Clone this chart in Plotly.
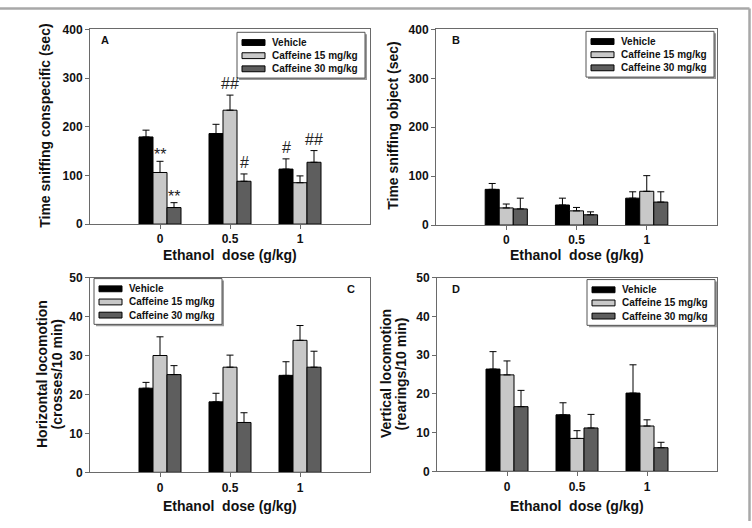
import plotly.graph_objects as go

# ---------------- data ----------------
categories = ["0", "0.5", "1"]
series_names = ["Vehicle", "Caffeine 15 mg/kg", "Caffeine 30 mg/kg"]

# Panel A: time sniffing conspecific (sec)
a_vehicle = [179, 186, 113]
a_caf15 = [106, 234, 85]
a_caf30 = [34, 88, 127]
a_vehicle_sem = [14, 19, 21]
a_caf15_sem = [23, 31, 14]
a_caf30_sem = [10, 15, 24]

# Panel B: time sniffing object (sec)
b_vehicle = [73, 41, 55]
b_caf15 = [35, 29, 69]
b_caf30 = [33, 21, 47]
b_vehicle_sem = [12, 14, 13]
b_caf15_sem = [8, 7, 32]
b_caf30_sem = [22, 6, 21]

# Panel C: horizontal locomotion (crosses/10 min)
c_vehicle = [21.6, 18.1, 24.9]
c_caf15 = [30.0, 27.0, 33.9]
c_caf30 = [25.1, 12.8, 27.0]
c_vehicle_sem = [1.5, 2.2, 3.5]
c_caf15_sem = [4.8, 3.1, 3.8]
c_caf30_sem = [2.3, 2.5, 4.1]

# Panel D: vertical locomotion (rearings/10 min)
d_vehicle = [26.4, 14.6, 20.2]
d_caf15 = [24.9, 8.5, 11.7]
d_caf30 = [16.7, 11.2, 6.1]
d_vehicle_sem = [4.5, 3.1, 7.3]
d_caf15_sem = [3.6, 2.0, 1.6]
d_caf30_sem = [4.2, 3.5, 1.4]

# significance marks in panel A: (series index, category index, text)
a_marks = [(1, 0, "**"), (2, 0, "**"), (1, 1, "##"), (2, 1, "#"), (0, 2, "#"), (2, 2, "##")]

# ---------------- styling ----------------
W, H = 752, 528
FONT = "Arial, 'Liberation Sans', Helvetica, sans-serif"
colors = ["#000000", "#c8c8c8", "#5e5e5e"]
AXC = "#6a6a6a"


def px(x):
    return x / W


def py(y):
    return 1 - y / H


panels = [
    dict(key="", vals=[a_vehicle, a_caf15, a_caf30], sems=[a_vehicle_sem, a_caf15_sem, a_caf30_sem],
         xd=(90, 370), yd=(23, 223), yr=400, dt=100,
         ytitle=["Time sniffing conspecific (sec)"], ytx=[45], yty=122,
         letter="A", lx=105, ly=34, leg=(237, 26), xtitle_y=255),
    dict(key="2", vals=[b_vehicle, b_caf15, b_caf30], sems=[b_vehicle_sem, b_caf15_sem, b_caf30_sem],
         xd=(436, 717), yd=(23, 224), yr=400, dt=100,
         ytitle=["Time sniffing object (sec)"], ytx=[393], yty=122,
         letter="B", lx=456, ly=34, leg=(586, 25), xtitle_y=255),
    dict(key="3", vals=[c_vehicle, c_caf15, c_caf30], sems=[c_vehicle_sem, c_caf15_sem, c_caf30_sem],
         xd=(90, 370), yd=(278, 478), yr=50, dt=10,
         ytitle=["Horizontal locomotion", "(crosses/10 min)"], ytx=[42, 57.5], yty=377,
         letter="C", lx=351, ly=290, leg=(94, 279), xtitle_y=513),
    dict(key="4", vals=[d_vehicle, d_caf15, d_caf30], sems=[d_vehicle_sem, d_caf15_sem, d_caf30_sem],
         xd=(437, 717), yd=(278, 477), yr=50, dt=10,
         ytitle=["Vertical locomotion", "(rearings/10 min)"], ytx=[386, 401.5], yty=377,
         letter="D", lx=456, ly=290, leg=(587, 280), xtitle_y=513),
]

fig = go.Figure()
xpos = list(range(len(categories)))
annotations = []
shapes = []

for p in panels:
    k = p["key"]
    for s in range(3):
        fig.add_trace(go.Bar(
            x=xpos, y=p["vals"][s], name=series_names[s],
            marker=dict(color=colors[s], line=dict(color="#000000", width=1)),
            error_y=dict(type="data", array=p["sems"][s], arrayminus=[0] * len(xpos),
                         symmetric=False, color="#000000", thickness=1, width=3.5),
            xaxis="x" + k, yaxis="y" + k, showlegend=False,
        ))
    fig.layout["xaxis" + k] = dict(
        domain=[px(p["xd"][0]), px(p["xd"][1])], anchor="y" + k,
        range=[-1, 3], tickvals=xpos, ticktext=categories,
        ticks="outside", ticklen=4, tickcolor=AXC,
        showline=True, mirror=True, linecolor=AXC, linewidth=1,
        showgrid=False, zeroline=False,
        tickfont=dict(family=FONT, size=12, color="#111", weight="bold"),
    )
    fig.layout["yaxis" + k] = dict(
        domain=[py(p["yd"][1]), py(p["yd"][0])], anchor="x" + k,
        range=[0, p["yr"]], dtick=p["dt"], tick0=0,
        ticks="outside", ticklen=4, tickcolor=AXC,
        showline=True, mirror=True, linecolor=AXC, linewidth=1,
        showgrid=False, zeroline=False,
        tickfont=dict(family=FONT, size=12, color="#111", weight="bold"),
    )
    # axis titles
    for line, tx in zip(p["ytitle"], p["ytx"]):
        annotations.append(dict(
            text=line, x=px(tx), y=py(p["yty"]), xref="paper", yref="paper",
            textangle=-90, showarrow=False, xanchor="center", yanchor="middle",
            font=dict(family=FONT, size=14, color="#111", weight="bold"),
        ))
    annotations.append(dict(
        text="Ethanol&nbsp; dose (g/kg)", x=px((p["xd"][0] + p["xd"][1]) / 2), y=py(p["xtitle_y"]),
        xref="paper", yref="paper", showarrow=False, xanchor="center", yanchor="middle",
        font=dict(family=FONT, size=14, color="#111", weight="bold"),
    ))
    # panel letter
    annotations.append(dict(
        text=p["letter"], x=px(p["lx"]), y=py(p["ly"]), xref="paper", yref="paper",
        showarrow=False, xanchor="center", yanchor="middle",
        font=dict(family=FONT, size=11, color="#111", weight="bold"),
    ))
    # custom legend box
    lx0, ly0 = p["leg"]
    bw, bh = 128, 47
    shapes.append(dict(type="rect", xref="paper", yref="paper",
                       x0=px(lx0 + 2), x1=px(lx0 + bw + 2), y0=py(ly0 + bh + 2), y1=py(ly0 + 2),
                       fillcolor="#9a9a9a", line=dict(width=0)))
    shapes.append(dict(type="rect", xref="paper", yref="paper",
                       x0=px(lx0), x1=px(lx0 + bw), y0=py(ly0 + bh), y1=py(ly0),
                       fillcolor="#ffffff", line=dict(color="#555555", width=1)))
    for s in range(3):
        ry = ly0 + 10.5 + 13.5 * s
        shapes.append(dict(type="rect", xref="paper", yref="paper",
                           x0=px(lx0 + 5), x1=px(lx0 + 28), y0=py(ry + 3), y1=py(ry - 3),
                           fillcolor=colors[s], line=dict(color="#000000", width=1)))
        annotations.append(dict(
            text=series_names[s], x=px(lx0 + 33), y=py(ry), xref="paper", yref="paper",
            showarrow=False, xanchor="left", yanchor="middle",
            font=dict(family=FONT, size=10, color="#111", weight="bold"),
        ))

# significance marks on panel A
offsets = [-0.2, 0.0, 0.2]
a_vals = panels[0]["vals"]
a_sems = panels[0]["sems"]
for s, c, t in a_marks:
    top = a_vals[s][c] + a_sems[s][c]
    annotations.append(dict(
        text=t, x=c + offsets[s], y=top, xref="x", yref="y",
        showarrow=False, xanchor="center", yanchor="bottom",
        yshift=(-4 if t.startswith("*") else 1),
        font=dict(family=FONT, size=16, color="#222"),
    ))

# outer frame (top and right edge)
shapes.append(dict(type="line", xref="paper", yref="paper",
                   x0=0, x1=px(749.5), y0=py(1.5), y1=py(1.5),
                   line=dict(color="#a8a8a8", width=2.5)))
shapes.append(dict(type="line", xref="paper", yref="paper",
                   x0=px(749.5), x1=px(749.5), y0=0, y1=py(1.5),
                   line=dict(color="#a8a8a8", width=2.5)))

fig.update_layout(
    width=W, height=H, margin=dict(l=0, r=0, t=0, b=0),
    paper_bgcolor="#ffffff", plot_bgcolor="#ffffff",
    barmode="group", bargap=0.4, bargroupgap=0,
    annotations=annotations, shapes=shapes,
    font=dict(family=FONT, color="#111"),
)

fig.write_html("out.html")
